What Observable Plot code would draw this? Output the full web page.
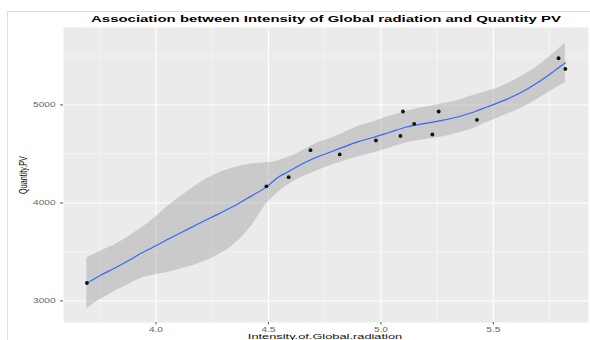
<!DOCTYPE html>
<html>
<head>
<meta charset="utf-8">
<script src="https://cdn.jsdelivr.net/npm/d3@7"></script>
<script src="https://cdn.jsdelivr.net/npm/@observablehq/plot@0.6"></script>
<style>
  html, body { margin: 0; padding: 0; background: #fff; }
  #wrap { position: relative; width: 590px; height: 340px; overflow: hidden; font-family: "Liberation Sans", Arial, sans-serif; }
  #frame { position: absolute; left: 7px; top: 11px; width: 590px; height: 340px; border-left: 1.5px solid #d5dfeb; border-top: 1.5px solid #d5dfeb; }
  #chart { position: absolute; left: 0; top: 0; }
  .lab { position: absolute; white-space: nowrap; line-height: 1; }
  #title { left: 325.5px; top: 15px; font-size: 9px; font-weight: bold; color: #000; transform: translateX(-50%) scaleX(1.66); }
  #xlab { left: 325px; top: 333px; font-size: 7px; color: #111; transform: translateX(-50%) scaleX(1.83); }
  #ylab { left: 22.5px; top: 175px; font-size: 7.2px; color: #111; transform: translate(-50%, -50%) rotate(-90deg) scaleY(1.6); }
</style>
</head>
<body>
<div id="wrap">
  <div id="frame"></div>
  <div id="chart"></div>
  <div class="lab" id="title">Association between Intensity of Global radiation and Quantity PV</div>
  <div class="lab" id="xlab">Intensity.of.Global.radiation</div>
  <div class="lab" id="ylab">Quantity.PV</div>
</div>
<script>
// observed points
const radiation = [3.693, 4.491, 4.590, 4.687, 4.817, 4.978, 5.087, 5.098, 5.148, 5.229, 5.257, 5.427, 5.790, 5.820];
const quantityPV = [3183, 4169, 4263, 4538, 4495, 4637, 4684, 4933, 4807, 4698, 4933, 4848, 5476, 5367];

// loess smooth with confidence band
const smoothX = [3.693,3.754,3.813,3.873,3.932,3.991,4.051,4.110,4.169,4.243,4.347,4.421,4.495,4.540,4.584,4.643,4.703,4.791,4.896,4.969,5.043,5.118,5.192,5.266,5.340,5.399,5.474,5.547,5.621,5.696,5.770,5.820];
const smoothFit = [3180,3262,3331,3405,3484,3553,3626,3696,3764,3849,3968,4067,4169,4257,4314,4390,4456,4532,4623,4670,4724,4777,4810,4840,4877,4918,4981,5046,5124,5226,5345,5430];
const smoothUpper = [3440,3509,3569,3648,3739,3842,3963,4066,4163,4267,4360,4396,4409,4426,4460,4523,4596,4670,4778,4828,4886,4939,4976,5010,5042,5088,5139,5199,5286,5393,5529,5631];
const smoothLower = [2920,3016,3094,3162,3229,3264,3290,3326,3365,3431,3576,3754,3999,4101,4180,4258,4316,4394,4468,4512,4563,4616,4644,4670,4712,4749,4823,4893,4963,5059,5162,5229];

// axis ticks
const xTicks = [4.0, 4.5, 5.0, 5.5];
const xMinor = [3.75, 4.25, 4.75, 5.25, 5.75];
const yTicks = [3000, 4000, 5000];
const yMinor = [3500, 4500, 5500];

const points = radiation.map((x, i) => ({x, y: quantityPV[i]}));
const smooth = smoothX.map((x, i) => ({x, fit: smoothFit[i], lo: smoothLower[i], hi: smoothUpper[i]}));

const svg = Plot.plot({
  width: 590,
  height: 340,
  marginLeft: 63,
  marginRight: 2,
  marginTop: 27,
  marginBottom: 18,
  style: {background: "transparent", fontFamily: "'Liberation Sans', Arial, sans-serif", overflow: "visible"},
  x: {domain: [3.589, 5.923], label: null},
  y: {domain: [2780, 5790], label: null},
  marks: [
    Plot.frame({fill: "#ebebeb", stroke: "none"}),
    Plot.gridX({ticks: xMinor, stroke: "#fff", strokeOpacity: 1, strokeWidth: 0.5}),
    Plot.gridY({ticks: yMinor, stroke: "#fff", strokeOpacity: 1, strokeWidth: 0.5}),
    Plot.gridX({ticks: xTicks, stroke: "#fff", strokeOpacity: 1, strokeWidth: 1.1}),
    Plot.gridY({ticks: yTicks, stroke: "#fff", strokeOpacity: 1, strokeWidth: 1.1}),
    Plot.areaY(smooth, {x: "x", y1: "lo", y2: "hi", fill: "#999999", fillOpacity: 0.4, curve: "monotone-x"}),
    Plot.line(smooth, {x: "x", y: "fit", stroke: "#3366FF", strokeWidth: 1.2, curve: "monotone-x"}),
    Plot.dot(points, {x: "x", y: "y", r: 1.9, fill: "#111", stroke: "none"}),
    Plot.axisX({ticks: xTicks, tickSize: 2.5, tickPadding: 2.5, fontSize: 6.5, stroke: "#555", fill: "#666", label: null, tickFormat: d3.format(".1f")}),
    Plot.axisY({ticks: yTicks, tickSize: 3, tickPadding: 5, fontSize: 6.5, stroke: "#555", fill: "#666", label: null, tickFormat: d => String(d)})
  ]
});

// horizontal stretch of tick labels, as in the reference
svg.querySelectorAll("text").forEach(t => {
  const tr = t.getAttribute("transform") || "";
  t.setAttribute("transform", tr + " scale(1.55,1)");
});

document.getElementById("chart").appendChild(svg);
</script>
</body>
</html>
